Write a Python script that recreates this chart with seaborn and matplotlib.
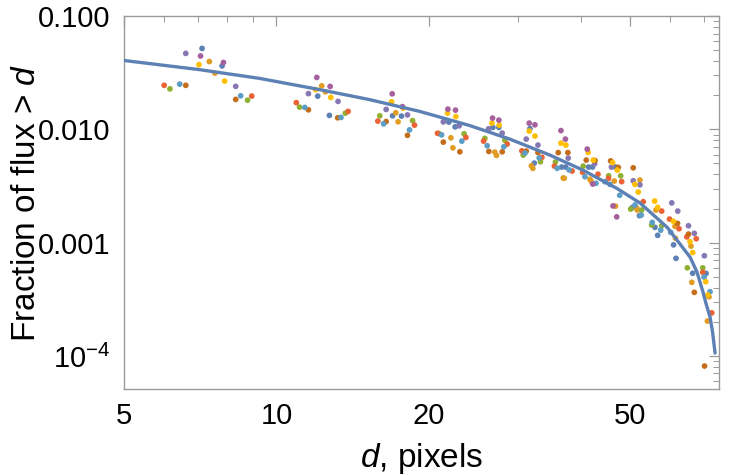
import pandas as pd
import matplotlib
matplotlib.use("Agg")
import matplotlib.pyplot as plt
from matplotlib.ticker import NullFormatter, FixedLocator
import seaborn as sns

# measured points, one list pair per colour series (d in pixels, fraction of flux > d)
red_d = [6.00, 8.94, 10.95, 13.86, 15.87, 18.75, 20.82, 23.69, 25.68, 28.59, 30.57, 33.49,
         35.45, 38.43, 40.31, 43.23, 45.34, 48.15, 53.12, 57.77, 59.86, 62.51, 64.76, 67.60,
         69.64, 72.55]
red_f = [0.0245, 0.0197, 0.01724, 0.01442, 0.01184, 0.01091, 0.00924, 0.0085, 0.00788, 0.00742,
         0.00647, 0.00567, 0.00474, 0.00429, 0.00418, 0.00402, 0.00369, 0.00346, 0.0023, 0.0019,
         0.001615, 0.001327, 0.001125, 0.001082, 0.000547, 0.00024]

green_d = [6.16, 8.77, 11.11, 13.69, 16.01, 18.59, 20.97, 23.50, 25.83, 28.29, 30.76, 33.27,
           35.61, 40.42, 45.38, 47.93, 50.16, 52.73, 55.19, 57.77, 64.91, 69.64]
green_f = [0.0228, 0.0181, 0.01573, 0.01393, 0.01318, 0.01196, 0.00918, 0.00915, 0.00833, 0.00804,
           0.00593, 0.00518, 0.00514, 0.00474, 0.00389, 0.00389, 0.00198, 0.00194, 0.00143, 0.00141,
           0.000599, 0.000599]

lightblue_d = [6.44, 8.50, 11.38, 13.42, 16.29, 18.33, 21.21, 23.26, 26.10, 28.16, 31.00, 33.07,
               35.90, 37.90, 40.74, 42.83, 44.62, 45.65, 47.71, 51.15, 52.63, 55.34, 57.50, 60.19,
               70.06, 71.99]
lightblue_f = [0.0251, 0.0198, 0.01564, 0.01276, 0.0112, 0.0099, 0.00894, 0.00788, 0.00717, 0.00702,
               0.00618, 0.0056, 0.00454, 0.00439, 0.00382, 0.00334, 0.00345, 0.00327, 0.00262,
               0.00215, 0.00175, 0.00151, 0.00129, 0.001233, 0.000497, 0.000369]

brown_d = [6.62, 8.31, 11.57, 13.22, 16.48, 18.16, 21.38, 23.05, 26.30, 27.95, 31.18, 32.89,
           36.07, 37.69, 40.97, 42.64, 45.79, 47.41, 50.75, 62.09, 65.26, 67.01, 70.21]
brown_f = [0.0245, 0.0184, 0.01489, 0.01266, 0.01172, 0.00887, 0.00772, 0.00634, 0.00639, 0.00634,
           0.00643, 0.00624, 0.00624, 0.00624, 0.00536, 0.00531, 0.00527, 0.00462, 0.00458,
           0.00148, 0.00119, 0.000364, 0.0000814]

purple_d = [6.62, 8.31, 11.57, 13.24, 16.48, 18.16, 21.38, 22.98, 26.27, 27.95, 31.18, 32.89,
            37.75, 42.58, 45.96, 50.75, 52.32, 60.47, 62.15, 65.26, 67.01, 70.15]
purple_f = [0.0469, 0.0240, 0.0207, 0.01767, 0.01501, 0.01343, 0.01165, 0.01076, 0.01012, 0.00928,
            0.00821, 0.00727, 0.00558, 0.00497, 0.00465, 0.00352, 0.00324, 0.002245, 0.0019,
            0.00141, 0.001208, 0.000766]

blue_d = [7.13, 7.81, 12.07, 12.73, 16.97, 17.67, 21.92, 22.56, 26.79, 27.53, 31.71, 32.34,
          36.63, 37.32, 41.43, 42.15, 46.81, 50.52, 52.21, 56.03, 56.72, 60.97, 61.65, 66.52, 70.70]
blue_f = [0.0519, 0.0364, 0.01967, 0.01329, 0.01318, 0.01311, 0.0116, 0.01052, 0.01041, 0.01041,
          0.01016, 0.00504, 0.00465, 0.00465, 0.00465, 0.00465, 0.00465, 0.00204, 0.00173,
          0.001365, 0.00116, 0.000956, 0.000727, 0.000537, 0.000535]

magenta_d = [7.08, 7.86, 12.02, 12.77, 16.94, 17.75, 21.83, 22.60, 26.75, 27.53, 31.61, 32.44,
             36.52, 37.27, 41.16, 42.21, 46.28, 47.07]
magenta_f = [0.0445, 0.0390, 0.02877, 0.02396, 0.02062, 0.01589, 0.0151, 0.0148, 0.01258, 0.01208,
             0.01136, 0.01098, 0.00976, 0.00821, 0.0067, 0.00329, 0.00211, 0.00169]

yellow_d = [7.03, 7.90, 11.96, 12.81, 16.89, 17.80, 21.79, 22.63, 26.67, 27.57, 31.61, 32.44,
            36.52, 37.35, 41.35, 42.31, 46.21, 47.20, 51.15, 51.92, 55.95, 56.72, 60.92, 65.71,
            66.52, 70.60, 71.25]
yellow_f = [0.0373, 0.0267, 0.02245, 0.01916, 0.01752, 0.01542, 0.01393, 0.01297, 0.01136, 0.01091,
            0.00966, 0.00873, 0.00757, 0.00727, 0.00627, 0.00536, 0.00509, 0.00437, 0.00327,
            0.0028, 0.00233, 0.00205, 0.001545, 0.001018, 0.000818, 0.000452, 0.000345]

orange_d = [7.37, 7.56, 12.29, 12.50, 17.22, 17.40, 22.13, 22.33, 27.03, 27.24, 31.92, 32.14,
            36.90, 37.07, 41.68, 41.91, 46.55, 46.81, 52.32, 51.55, 51.70, 56.28, 61.37, 61.51,
            66.01, 66.26, 71.67, 71.12]
orange_f = [0.0397, 0.0314, 0.02426, 0.02147, 0.01401, 0.01167, 0.00843, 0.00688, 0.0063, 0.0059,
            0.00477, 0.00453, 0.00372, 0.0037, 0.00363, 0.00348, 0.0035, 0.0021, 0.00357, 0.00203,
            0.00194, 0.00194, 0.001393, 0.001093, 0.000933, 0.000446, 0.000333, 0.000203]

# fitted model curve
curve_d = [5.0, 7.05, 9.27, 12.18, 15.30, 19.21, 24.13, 28.94, 34.73, 40.36, 47.13, 52.33,
           59.18, 65.72, 67.83, 69.72, 70.68, 71.99, 72.81, 73.65]
curve_f = [0.0406, 0.0337, 0.0282, 0.02245, 0.0183, 0.01441, 0.0108, 0.00821, 0.00593, 0.00437,
           0.00301, 0.00224, 0.00137, 0.000746, 0.00055, 0.000366, 0.00029, 0.00022, 0.000163,
           0.000106]

series = {
    "blue": (blue_d, blue_f),
    "orange": (orange_d, orange_f),
    "green": (green_d, green_f),
    "red": (red_d, red_f),
    "purple": (purple_d, purple_f),
    "brown": (brown_d, brown_f),
    "lightblue": (lightblue_d, lightblue_f),
    "yellow": (yellow_d, yellow_f),
    "magenta": (magenta_d, magenta_f),
}
palette = {
    "blue": "#5E81B5", "orange": "#E19C24", "green": "#8FB032", "red": "#EB6235",
    "purple": "#8778B3", "brown": "#C56E1A", "lightblue": "#5D9EC7", "yellow": "#FFBF00",
    "magenta": "#A5609D",
}

rows = []
for name, (ds, fs) in series.items():
    for d, f in zip(ds, fs):
        rows.append({"d": d, "frac": f, "series": name})
points = pd.DataFrame(rows)
curve = pd.DataFrame({"d": curve_d, "frac": curve_f})

sns.set_style("white")
plt.rcParams["font.family"] = ["Liberation Sans", "DejaVu Sans"]
plt.rcParams["mathtext.fontset"] = "custom"
plt.rcParams["mathtext.rm"] = "Liberation Sans"
plt.rcParams["mathtext.it"] = "Liberation Sans:italic"
plt.rcParams["axes.labelcolor"] = "black"
plt.rcParams["text.color"] = "black"

fig, ax = plt.subplots(figsize=(7.3, 4.75), dpi=100)
fig.subplots_adjust(left=0.170, right=0.985, bottom=0.181, top=0.966)
ax.set_xscale("log")
ax.set_yscale("log")

sns.scatterplot(data=points, x="d", y="frac", hue="series", palette=palette,
                s=17, linewidth=0, legend=False, ax=ax, zorder=2)
sns.lineplot(data=curve, x="d", y="frac", color="#5E81B5", linewidth=2.4,
             sort=False, estimator=None, ax=ax, zorder=3)

ax.set_xlim(5, 75)
ax.set_ylim(5.1e-5, 0.1)

ax.xaxis.set_major_locator(FixedLocator([5, 10, 20, 50]))
ax.set_xticklabels(["5", "10", "20", "50"])
ax.xaxis.set_minor_locator(FixedLocator([6, 7, 8, 9, 30, 40, 60, 70]))
ax.xaxis.set_minor_formatter(NullFormatter())

ax.yaxis.set_major_locator(FixedLocator([1e-4, 1e-3, 1e-2, 1e-1]))
ax.set_yticklabels(["$10^{-4}$", "0.001", "0.010", "0.100"])
ymin = [m * 10.0 ** e for e in (-5, -4, -3, -2) for m in range(2, 10)]
ax.yaxis.set_minor_locator(FixedLocator(ymin))
ax.yaxis.set_minor_formatter(NullFormatter())

frame = "#9a9a9a"
for sp in ax.spines.values():
    sp.set_color(frame)
    sp.set_linewidth(1.0)
ax.tick_params(which="both", direction="in", top=True, right=True, color=frame,
               labelsize=21, labelcolor="black")
ax.tick_params(which="major", length=7, width=0.9)
ax.tick_params(which="minor", length=4, width=0.7)
ax.tick_params(axis="x", pad=9)
ax.tick_params(axis="y", pad=10)

ax.set_xlabel("$d$, pixels", fontsize=24, labelpad=8, color="black")
ax.set_ylabel("Fraction of flux > $d$", fontsize=24, color="black")
ax.yaxis.set_label_coords(-0.138, 0.5)

plt.savefig("out.png", dpi=100)
